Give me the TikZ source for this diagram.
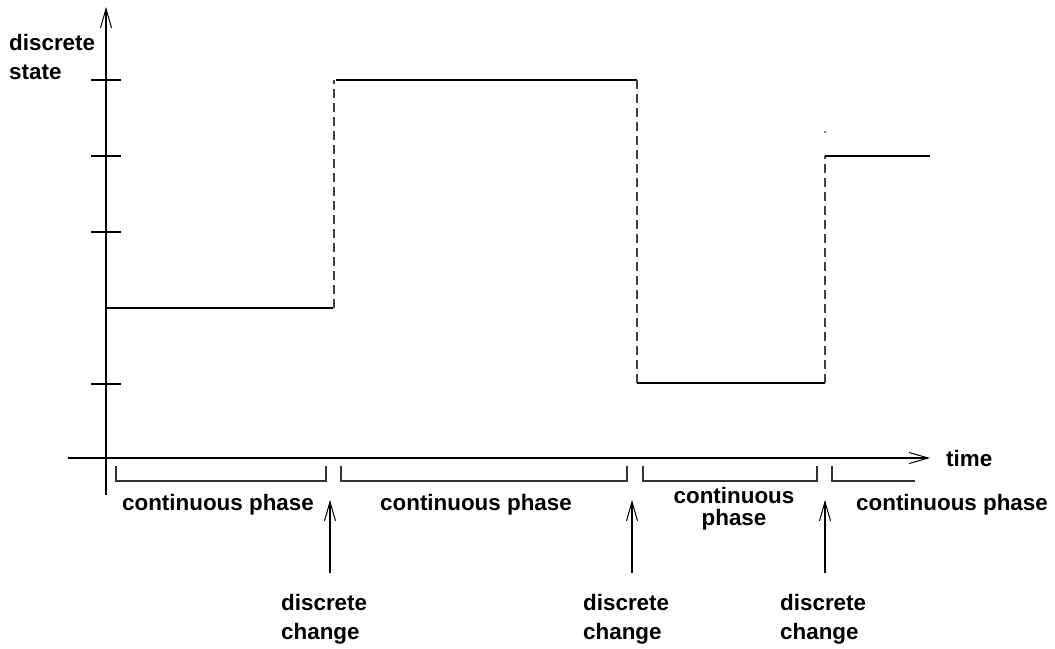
\documentclass[tikz,border=0pt]{standalone}
\usepackage{fontspec}
\setmainfont{Liberation Sans}
\usetikzlibrary{arrows.meta}
\begin{document}
\begin{tikzpicture}[x=1pt,y=-1pt,
  ln/.style={line width=1.2pt,black},
  dsh/.style={line width=1.2pt,black!75,dash pattern=on 9pt off 5pt},
  ax/.style={line width=1.2pt,-{Straight Barb[length=19pt,width=11pt,line width=1pt]}},
  lbl/.style={font=\fontsize{22.4}{29.5}\selectfont\bfseries,inner sep=0pt},
  brk/.style={line width=1.2pt,black!80}]
\useasboundingbox (0,0) rectangle (1055,648);
% axes
\coordinate (yb) at (106,495);
\coordinate (yt) at (106,7);
\coordinate (xl) at (68,458);
\coordinate (xr) at (930,458);
\draw[ax] (yb) -- (yt);
\draw[ax] (xl) -- (xr);
% ticks
\foreach \y in {80,156,232,384} \draw[ln] (91,\y) -- (121,\y);
% signal
\draw[ln] (106,308) -- (333,308);
\draw[dsh] (334,308) -- (334,80);
\draw[ln] (336,80) -- (637,80);
\draw[dsh] (637,80) -- (637,383);
\draw[ln] (637,383) -- (825,383);
\draw[dsh] (825,383) -- (825,156);
\draw[ln] (825,156) -- (930,156);
\fill (825,132) circle (0.8pt);
% brackets
\draw[brk] (116,466) -- (116,481) -- (326,481) -- (326,466);
\draw[brk] (341,466) -- (341,481) -- (627,481) -- (627,466);
\draw[brk] (643,466) -- (643,481) -- (817,481) -- (817,466);
\draw[brk] (832,466) -- (832,481) -- (915,481);
% labels
\node[lbl,anchor=base] (l1) at (218,510) {continuous phase};
\node[lbl,anchor=base] (l2) at (476,510) {continuous phase};
\node[lbl,anchor=base] (l3a) at (734,503) {continuous};
\node[lbl,anchor=base] (l3b) at (734,525) {phase};
\node[lbl,anchor=base] (l4) at (952,510) {continuous phase};
\node[lbl,anchor=base west] (time) at (946,466) {time};
\node[lbl,anchor=north west,align=left] (ds) at (9,34) {discrete\\state};
\node[lbl,anchor=north west,align=left] (c1) at (281,594) {discrete\\change};
\node[lbl,anchor=north west,align=left] (c2) at (583,594) {discrete\\change};
\node[lbl,anchor=north west,align=left] (c3) at (780,594) {discrete\\change};
\coordinate (a1) at (330,500);
\coordinate (a2) at (632,500);
\coordinate (a3) at (825,500);
\draw[ax] (330,573) -- (a1);
\draw[ax] (632,573) -- (a2);
\draw[ax] (825,573) -- (a3);
\end{tikzpicture}
\end{document}
